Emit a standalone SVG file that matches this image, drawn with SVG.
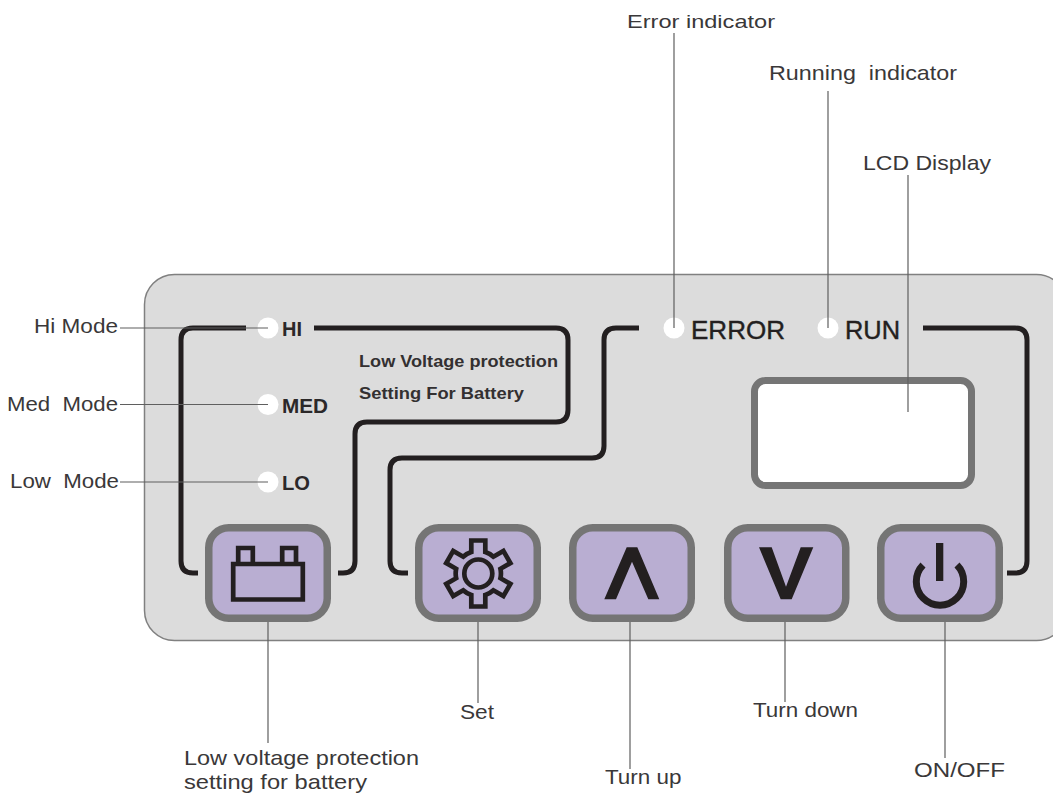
<svg xmlns="http://www.w3.org/2000/svg" width="1053" height="793" viewBox="0 0 1053 793">
<style>
.lbl{font-family:"Liberation Sans",Arial,sans-serif;font-size:21px;fill:#3a3839}
.led{font-family:"Liberation Sans",Arial,sans-serif;font-size:20px;font-weight:bold;fill:#2b2829}
.note{font-family:"Liberation Sans",Arial,sans-serif;font-size:17px;font-weight:bold;fill:#333031}
.big{font-family:"Liberation Sans",Arial,sans-serif;font-size:25px;fill:#231f20;stroke:#231f20;stroke-width:.4}
.btn{fill:#b9aed2;stroke:#757575;stroke-width:7.5}
.bracket{fill:none;stroke:#231f20;stroke-width:5}
.leader{fill:none;stroke:#5f5f5f;stroke-width:1.2}
.dot{fill:#fff}
.icon{fill:none;stroke:#231f20;stroke-width:4.700}
.solid{fill:#231f20}
</style>
<rect width="1053" height="793" fill="#fff"/>
<g id="panel"><rect x="144.500" y="274.500" width="922" height="366" rx="30" fill="#dcdcdc" stroke="#808080" stroke-width="1.500"/></g>
<g id="brackets">
<path class="bracket" d="M198 573H193Q181 573 181 561V340Q181 328 193 328H246"/>
<path class="bracket" d="M314 328H556Q568 328 568 340V410Q568 422 556 422H367Q355 422 355 434V561Q355 573 343 573H338"/>
<path class="bracket" d="M408 573H402Q390 573 390 561V470Q390 458 402 458H592Q604 458 604 446V340Q604 328 616 328H639"/>
<path class="bracket" d="M923 328H1015Q1027 328 1027 340V561Q1027 573 1015 573H1007"/>
</g>
<g id="lcd"><rect x="754.500" y="380.500" width="217" height="105" rx="11" fill="#fff" stroke="#757575" stroke-width="7"/></g>
<g id="led-hi"><circle class="dot" cx="268" cy="328" r="10.500"/><text class="led" x="282" y="336" textLength="20" lengthAdjust="spacingAndGlyphs">HI</text></g>
<g id="led-med"><circle class="dot" cx="268" cy="404.500" r="10.500"/><text class="led" x="282" y="413" textLength="46" lengthAdjust="spacingAndGlyphs">MED</text></g>
<g id="led-lo"><circle class="dot" cx="268" cy="482" r="10.500"/><text class="led" x="282" y="490" textLength="28" lengthAdjust="spacingAndGlyphs">LO</text></g>
<g id="led-error"><circle class="dot" cx="674" cy="328" r="10.500"/><text class="big" x="691" y="339" textLength="94" lengthAdjust="spacingAndGlyphs">ERROR</text></g>
<g id="led-run"><circle class="dot" cx="828" cy="328" r="10.500"/><text class="big" x="845" y="339" textLength="55" lengthAdjust="spacingAndGlyphs">RUN</text></g>
<g id="note"><text class="note" x="359" y="367" textLength="199" lengthAdjust="spacingAndGlyphs">Low Voltage protection</text><text class="note" x="359" y="399" textLength="165" lengthAdjust="spacingAndGlyphs">Setting For Battery</text></g>
<g id="btn-battery"><rect class="btn" x="208.750" y="527.750" width="118.500" height="90.500" rx="20"/><path class="icon" d="M233.200 564H302.800V599.500H233.200ZM238.200 564V548H252.800V564M282.200 564V548H296V564"/></g>
<g id="btn-set"><rect class="btn" x="418.750" y="527.750" width="118.500" height="90.500" rx="20"/><g transform="translate(478.300 573.500)"><path class="icon" d="M-7-21.500V-33H7V-21.500A21.500 21.500 0 0 1 15.120-16.810L25.080-22.560L32.080-10.440L22.120-4.690A21.500 21.500 0 0 1 22.120 4.690L32.080 10.440L25.080 22.560L15.120 16.810A21.500 21.500 0 0 1 7 21.500V33H-7V21.500A21.500 21.500 0 0 1-15.120 16.810L-25.080 22.560L-32.080 10.440L-22.120 4.690A21.500 21.500 0 0 1-22.120-4.690L-32.080-10.440L-25.080-22.560L-15.120-16.810A21.500 21.500 0 0 1-7-21.500Z"/><circle class="icon" r="14"/></g></g>
<g id="btn-up"><rect class="btn" x="572.750" y="527.750" width="118.500" height="90.500" rx="20"/><path class="solid" d="M626.700 547.300H637.300L659.300 599.300H648.300L632 561.700L616 599.300H604.300Z"/></g>
<g id="btn-down"><rect class="btn" x="727.750" y="527.750" width="118" height="90.500" rx="20"/><path class="solid" d="M759 547.300H771.700L786 586.700L800.700 547.300H813.300L791.700 599.300H780.700Z"/></g>
<g id="btn-power"><rect class="btn" x="880.750" y="527.750" width="118.500" height="90.500" rx="20"/><path fill="none" stroke="#231f20" stroke-width="7" d="M923 565A23.700 23.700 0 1 0 957 565"/><rect class="solid" x="936" y="543" width="7.300" height="38"/></g>
<g id="connectors">
<path class="leader" d="M120 328H268M120 404.500H268M120 482H268M674 33V328M828 91V328M908 175V412M268 622V743M478 622V703M630 622V769M785 622V702M945 622V758"/>
</g>
<g id="labels">
<text class="lbl" style="font-size:19px" x="627" y="28" textLength="148" lengthAdjust="spacingAndGlyphs">Error indicator</text>
<text class="lbl" x="769" y="80" textLength="188" lengthAdjust="spacingAndGlyphs" xml:space="preserve">Running  indicator</text>
<text class="lbl" x="863" y="170" textLength="128" lengthAdjust="spacingAndGlyphs">LCD Display</text>
<text class="lbl" style="font-size:20px" x="34" y="333" textLength="84" lengthAdjust="spacingAndGlyphs">Hi Mode</text>
<text class="lbl" style="font-size:20px" x="7" y="411" textLength="111" lengthAdjust="spacingAndGlyphs" xml:space="preserve">Med  Mode</text>
<text class="lbl" style="font-size:20px" x="10" y="488" textLength="109" lengthAdjust="spacingAndGlyphs" xml:space="preserve">Low  Mode</text>
<text class="lbl" x="184" y="765" textLength="235" lengthAdjust="spacingAndGlyphs">Low voltage protection</text>
<text class="lbl" x="184" y="789" textLength="183" lengthAdjust="spacingAndGlyphs">setting for battery</text>
<text class="lbl" x="460" y="719" textLength="34" lengthAdjust="spacingAndGlyphs">Set</text>
<text class="lbl" x="605" y="783.500" textLength="76.500" lengthAdjust="spacingAndGlyphs">Turn up</text>
<text class="lbl" x="753" y="717" textLength="105" lengthAdjust="spacingAndGlyphs">Turn down</text>
<text class="lbl" x="914" y="777" textLength="91" lengthAdjust="spacingAndGlyphs">ON/OFF</text>
</g>
</svg>
